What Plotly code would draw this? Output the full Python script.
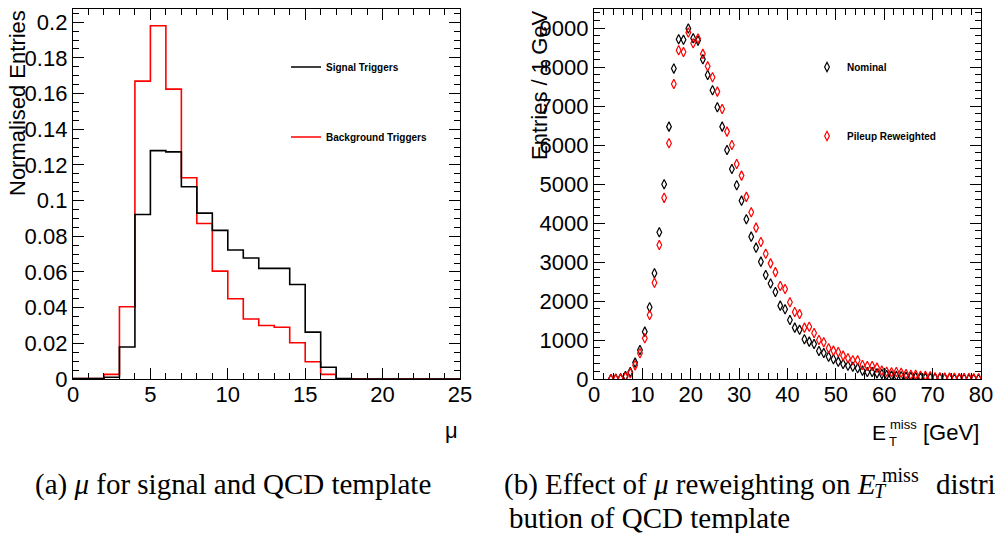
import plotly.graph_objects as go

# ---------------- data ----------------
# pile-up (mu) distributions, unit-width bins from 0 to 25
mu_bin_edges = list(range(0, 26))
signal_triggers = [0.0003, 0.0003, 0.0010, 0.0179, 0.0922, 0.1280, 0.1273, 0.1078,
                   0.0930, 0.0833, 0.0723, 0.0678, 0.0620, 0.0620, 0.0530, 0.0263,
                   0.0066, 0.0003, 0.0, 0.0, 0.0, 0.0, 0.0, 0.0, 0.0]
background_triggers = [0.0003, 0.0003, 0.0026, 0.0405, 0.1670, 0.1980, 0.1625, 0.1128,
                       0.0872, 0.0605, 0.0450, 0.0336, 0.0300, 0.0290, 0.0203, 0.0097,
                       0.0026, 0.0, 0.0, 0.0, 0.0, 0.0, 0.0, 0.0, 0.0]

# missing-ET template, 1 GeV bins (centres 3.5 ... 79.5)
met_bin_centres = [b + 0.5 for b in range(3, 80)]
met_nominal = [0, 5, 20, 77, 180, 420, 744, 1214, 1838, 2710,
               3762, 4995, 6471, 7959, 8712, 8700, 8985, 8737, 8677, 8199,
               7797, 7404, 6968, 6471, 5873, 5386, 4970, 4573, 4096, 3650,
               3368, 3009, 2667, 2450, 2230, 1881, 1788, 1513, 1317, 1265,
               1018, 958, 898, 718, 667, 573, 504, 445, 385, 342,
               316, 274, 214, 180, 180, 145, 128, 103, 90, 80,
               70, 60, 52, 46, 40, 35, 30, 27, 23, 20,
               17, 15, 13, 11, 9, 8, 6]
met_reweighted = [0, 3, 10, 50, 150, 350, 660, 1043, 1641, 2470,
                  3437, 4645, 6044, 7566, 8430, 8387, 8883, 8609, 8729, 8336,
                  8019, 7737, 7369, 6925, 6343, 6002, 5514, 5215, 4670, 4275,
                  3881, 3514, 3210, 2965, 2740, 2385, 2308, 1966, 1718, 1667,
                  1317, 1342, 1180, 1000, 940, 787, 727, 693, 599, 530,
                  479, 479, 359, 333, 333, 291, 214, 188, 171, 180,
                  162, 128, 111, 111, 85, 85, 68, 43, 43, 40,
                  35, 32, 28, 25, 22, 20, 18]

W, H = 995, 533


def px(x):
    return x / W


def py(y):
    return 1 - y / H


SANS = "Liberation Sans"
SERIF = "Liberation Serif"


def step(values):
    # repeat the last bin content so the 'hv' line closes at the upper edge
    return values + [values[-1]]


fig = go.Figure()

# left panel: mu histograms
fig.add_trace(go.Scatter(
    x=mu_bin_edges, y=step(background_triggers), mode="lines",
    line=dict(color="#ff0000", width=1.6, shape="hv"),
    name="Background Triggers", legend="legend2", xaxis="x", yaxis="y"))
fig.add_trace(go.Scatter(
    x=mu_bin_edges, y=step(signal_triggers), mode="lines",
    line=dict(color="#000000", width=1.6, shape="hv"),
    name="Signal Triggers", legend="legend", xaxis="x", yaxis="y"))

# right panel: missing ET
diamond = dict(symbol="diamond-tall-open", size=6.8)
fig.add_trace(go.Scatter(
    x=met_bin_centres, y=met_nominal, mode="markers",
    marker=dict(**diamond, color="#000000", line=dict(width=1.2, color="#000000")),
    name="Nominal", legend="legend3", xaxis="x2", yaxis="y2"))
fig.add_trace(go.Scatter(
    x=met_bin_centres, y=met_reweighted, mode="markers",
    marker=dict(**diamond, color="#ff0000", line=dict(width=1.2, color="#ff0000")),
    name="Pileup Reweighted", legend="legend4", xaxis="x2", yaxis="y2"))

tickfont = dict(family=SANS, size=22, color="black")


def axis(domain, rng, dtick, minor_dtick, anchor, fmt=None, standoff=0):
    a = dict(domain=domain, range=rng, dtick=dtick, tick0=0, anchor=anchor,
             automargin=False, ticklabelstandoff=standoff,
             showline=True, linecolor="black", linewidth=1.3, mirror="ticks",
             ticks="inside", ticklen=11, tickwidth=1, tickcolor="black",
             showgrid=False, zeroline=False, tickfont=tickfont,
             minor=dict(ticks="inside", ticklen=6, dtick=minor_dtick, tick0=0,
                        tickwidth=1, tickcolor="black", showgrid=False))
    if fmt:
        a["tickformat"] = fmt
    return a


ydom = [py(379), py(8.5)]
fig.update_layout(
    template="none",
    width=W, height=H, margin=dict(l=0, r=0, t=0, b=0, autoexpand=False),
    paper_bgcolor="white", plot_bgcolor="white", showlegend=True,
    xaxis=axis([px(73), px(460)], [0, 25], 5, 1, "y", standoff=-5),
    yaxis=axis(ydom, [0, 0.2077], 0.02, 0.005, "x"),
    xaxis2=axis([px(594), px(981)], [0, 80], 10, 2, "y2", standoff=-5),
    yaxis2=axis(ydom, [0, 9500], 1000, 200, "x2", fmt="d"),
)

legend_style = dict(xanchor="left", yanchor="middle", bgcolor="rgba(0,0,0,0)",
                    borderwidth=0,
                    font=dict(family=SANS, size=10, color="black", weight="bold"))
fig.update_layout(
    legend=dict(x=px(286), y=py(67), **legend_style),
    legend2=dict(x=px(286), y=py(137), **legend_style),
    legend3=dict(x=px(807), y=py(67), **legend_style),
    legend4=dict(x=px(807), y=py(136), **legend_style),
)

black_sans = dict(family=SANS, size=22, color="black")
small_sans = dict(family=SANS, size=13, color="black")
ann = []
# axis titles
ann.append(dict(text="Normalised Entries", x=px(18), y=py(8), xanchor="center",
                yanchor="top", textangle=-90, font=black_sans))
ann.append(dict(text="Entries / 1 GeV", x=px(540), y=py(8), xanchor="center",
                yanchor="top", textangle=-90, font=black_sans))
ann.append(dict(text="\u03bc", x=px(460), y=py(430), xanchor="right",
                yanchor="middle", font=black_sans))
ann.append(dict(text="E", x=px(888), y=py(432), xanchor="right",
                yanchor="middle", font=dict(family=SANS, size=21, color="black")))
ann.append(dict(text="miss", x=px(888), y=py(424), xanchor="left",
                yanchor="middle", font=small_sans))
ann.append(dict(text="T", x=px(887), y=py(441), xanchor="left",
                yanchor="middle", font=small_sans))
ann.append(dict(text="[GeV]", x=px(981), y=py(432), xanchor="right",
                yanchor="middle", font=black_sans))

# captions
cap = dict(family=SERIF, size=29, color="black")
cap_small = dict(family=SERIF, size=20, color="black")
ann.append(dict(text="(a) <i>\u03bc</i> for signal and QCD template", x=px(33),
                y=py(484), xanchor="left", yanchor="middle", font=cap))
ann.append(dict(text="(b) Effect of <i>\u03bc</i> reweighting on <i>E</i>", x=px(878),
                y=py(484), xanchor="right", yanchor="middle", font=cap))
ann.append(dict(text="miss", x=px(880), y=py(475), xanchor="left",
                yanchor="middle", font=cap_small))
ann.append(dict(text="<i>T</i>", x=px(872), y=py(491), xanchor="left",
                yanchor="middle", font=cap_small))
ann.append(dict(text="distri-", x=px(934), y=py(484), xanchor="left",
                yanchor="middle", font=cap))
ann.append(dict(text="bution of QCD template", x=px(507), y=py(518), xanchor="left",
                yanchor="middle", font=cap))

for a in ann:
    a.update(xref="paper", yref="paper", showarrow=False)
fig.update_layout(annotations=ann)

fig.write_html("out.html")
